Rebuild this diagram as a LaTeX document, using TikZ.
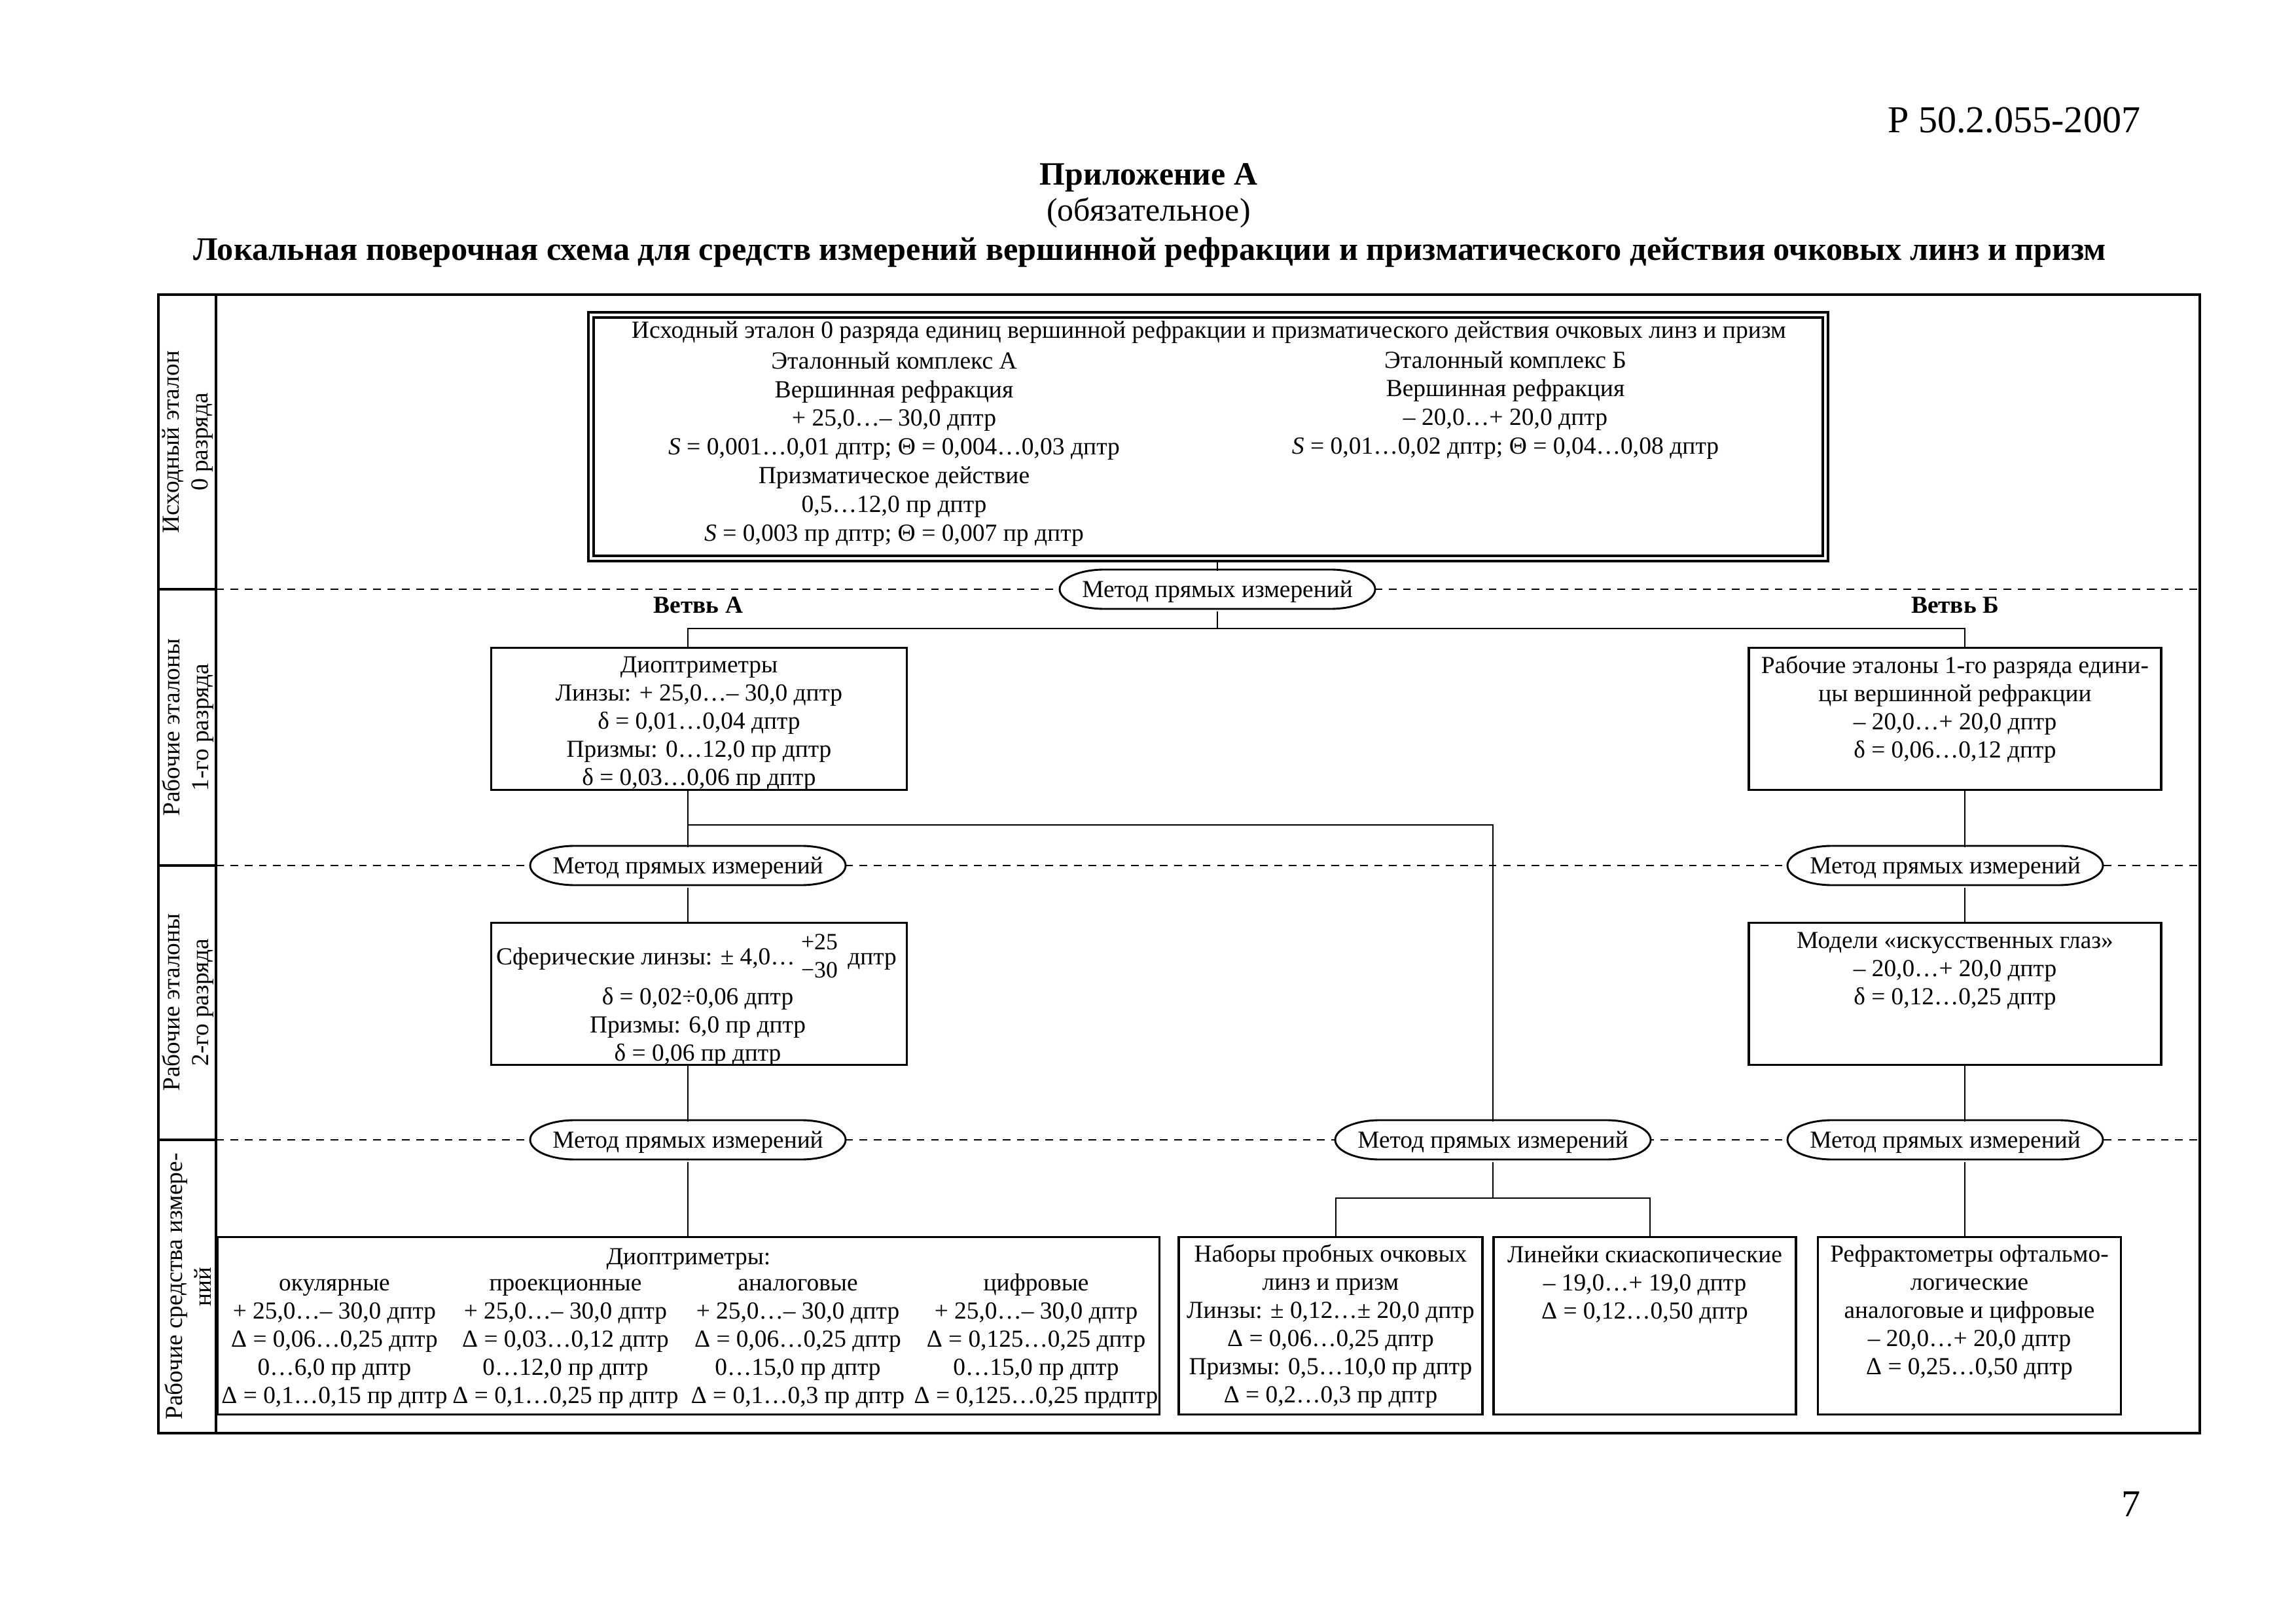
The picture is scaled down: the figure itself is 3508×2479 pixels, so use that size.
\documentclass[tikz,border=0pt]{standalone}
\usepackage{fontspec}
\setmainfont{Liberation Serif}
\newlength\pu
\setlength\pu{0.0846636mm}
\newcommand\myfs[2]{\fontsize{#1}{#2}\selectfont}
\newcommand\tst{\rule{0pt}{7pt}}
\newcommand\bst{\rule[-2.2pt]{0pt}{2.2pt}}
\tikzset{
  frm/.style={line width=0.9pt},
  box/.style={draw, line width=0.8pt, inner sep=0pt},
  conn/.style={line width=0.7pt},
  dsh/.style={line width=0.7pt, dash pattern=on 1mm off 0.85mm},
  txt/.style={align=center, inner sep=0pt, font=\myfs{9}{10.35}, yshift=-0.1pt},
  toptxt/.style={align=center, inner sep=0pt, font=\myfs{9.05}{10.55}, yshift=0.3pt},
  lbl/.style={align=center, inner sep=0pt, rotate=90, font=\myfs{9}{10.6}},
  brn/.style={inner sep=0pt, font=\myfs{9}{10.3}\bfseries},
  methnode/.style={inner sep=0pt, minimum width=482\pu, minimum height=60\pu, font=\myfs{9}{10.3}},
  methline/.style={line width=0.7pt, fill=white}
}
\newcommand\methbox[3]{%
  \draw[methline] (#2-173,#3-30) -- (#2+173,#3-30)
    arc[start angle=-90, end angle=90, x radius=68, y radius=30]
    -- (#2-173,#3+30)
    arc[start angle=90, end angle=270, x radius=68, y radius=30] -- cycle;
  \node[methnode] (#1) at (#2,#3+3) {\tst Метод прямых измерений\bst};}
\begin{document}
\begin{tikzpicture}[x=0.0846636mm, y=-0.0846636mm]
\useasboundingbox (0,0) rectangle (3508,2479);
% header
\node[font=\myfs{14}{16}, anchor=base east, inner sep=0pt] (hdr) at (3271,203) {Р 50.2.055-2007};
\node[font=\myfs{12}{14}\bfseries, anchor=base, inner sep=0pt] (app) at (1755,283) {Приложение А};
\node[font=\myfs{12}{14}, anchor=base, inner sep=0pt] (oblig) at (1755,338) {(обязательное)};
\node[font=\myfs{12.1}{14}\bfseries, anchor=base, inner sep=0pt] (ttl) at (1757,398) {Локальная поверочная схема для средств измерений вершинной рефракции и призматического действия очковых линз и призм};
\node[font=\myfs{14}{16}, anchor=base east, inner sep=0pt] (pg) at (3271,2316) {7};
% frame
\coordinate (FTL) at (242,450);
\coordinate (FBR) at (3361,2189);
\draw[frm] (FTL) rectangle (FBR);
\draw[frm] (330,450) -- (330,2189);
\foreach \yy in {900,1322,1741} {
  \draw[frm] (242,\yy) -- (330,\yy);
  \draw[dsh] (330,\yy) -- (3361,\yy);
}
% level labels
\node[lbl] (L0) at (287,675) {Исходный эталон\\0 разряда};
\node[lbl] (L1) at (287,1111) {Рабочие эталоны\\1-го разряда};
\node[lbl] (L2) at (287,1531) {Рабочие эталоны\\2-го разряда};
\node[lbl] (L3) at (287,1965) {Рабочие средства измере-\\ний};
% top box
\node[box, minimum width=1894\pu, minimum height=380\pu] (T) at (1846,667) {};
\node[box, minimum width=1878\pu, minimum height=364\pu] (Ti) at (1846,667) {};
\node[toptxt] (t0) at (1847,508) {\tst Исходный эталон 0 разряда единиц вершинной рефракции и призматического действия очковых линз и призм\bst};
\node[toptxt] (tA) at (1366,686) {\tst Эталонный комплекс А\\Вершинная рефракция\\+ 25,0…– 30,0 дптр\\\textit{S} = 0,001…0,01 дптр; Θ = 0,004…0,03 дптр\\Призматическое действие\\0,5…12,0 пр дптр\\\textit{S} = 0,003 пр дптр; Θ = 0,007 пр дптр\bst};
\node[toptxt] (tB) at (2300,619) {\tst Эталонный комплекс Б\\Вершинная рефракция\\– 20,0…+ 20,0 дптр\\\textit{S} = 0,01…0,02 дптр; Θ = 0,04…0,08 дптр\bst};
% method ellipses
\methbox{E0}{1860}{900}
\methbox{E1L}{1051}{1322}
\methbox{E1R}{2972}{1322}
\methbox{E2L}{1051}{1741}
\methbox{E2M}{2281}{1741}
\methbox{E2R}{2972}{1741}
% branch labels
\node[brn] (brA) at (1067,924) {Ветвь А};
\node[brn] (brB) at (2987,924) {Ветвь Б};
% level 1 boxes
\node[box, minimum width=635\pu, minimum height=217\pu] (B1L) at (1068,1098) {};
\node[txt] (b1lt) at (1068,1103) {\tst Диоптриметры\\Линзы: + 25,0…– 30,0 дптр\\δ = 0,01…0,04 дптр\\Призмы: 0…12,0 пр дптр\\δ = 0,03…0,06 пр дптр\bst};
\node[box, minimum width=630\pu, minimum height=217\pu] (B1R) at (2987,1098) {};
\node[txt] (b1rt) at (2987,1083) {\tst Рабочие эталоны 1-го разряда едини-\\цы вершинной рефракции\\– 20,0…+ 20,0 дптр\\δ = 0,06…0,12 дптр\bst};
% level 2 boxes
\node[box, minimum width=635\pu, minimum height=217\pu] (B2L) at (1068,1518) {};
\node[txt] (b2lt1) at (1064,1464) {Сферические линзы: ± 4,0… {\myfs{8.6}{9.5}\begin{tabular}{@{}c@{}}+25\\[0.8pt]−30\end{tabular}}\, дптр};
\node[txt] (b2lt2) at (1066,1567) {\tst δ = 0,02÷0,06 дптр\\Призмы: 6,0 пр дптр\\δ = 0,06 пр дптр\bst};
\node[box, minimum width=630\pu, minimum height=217\pu] (B2R) at (2987,1518) {};
\node[txt] (b2rt) at (2987,1481) {\tst Модели «искусственных глаз»\\– 20,0…+ 20,0 дптр\\δ = 0,12…0,25 дптр\bst};
% level 3 boxes
\node[box, minimum width=1439\pu, minimum height=271\pu] (B3L) at (1052,2025) {};
\node[txt] (d0) at (1052,1921) {\tst Диоптриметры:\bst};
\node[txt] (d1) at (511,2047) {\tst окулярные\\+ 25,0…– 30,0 дптр\\Δ = 0,06…0,25 дптр\\0…6,0 пр дптр\\Δ = 0,1…0,15 пр дптр\bst};
\node[txt] (d2) at (864,2047) {\tst проекционные\\+ 25,0…– 30,0 дптр\\Δ = 0,03…0,12 дптр\\0…12,0 пр дптр\\Δ = 0,1…0,25 пр дптр\bst};
\node[txt] (d3) at (1219,2047) {\tst аналоговые\\+ 25,0…– 30,0 дптр\\Δ = 0,06…0,25 дптр\\0…15,0 пр дптр\\Δ = 0,1…0,3 пр дптр\bst};
\node[txt] (d4) at (1583,2047) {\tst цифровые\\+ 25,0…– 30,0 дптр\\Δ = 0,125…0,25 дптр\\0…15,0 пр дптр\\Δ = 0,125…0,25 прдптр\bst};
\node[box, minimum width=464\pu, minimum height=271\pu] (B3a) at (2033,2025) {};
\node[txt] (b3at) at (2033,2025) {\tst Наборы пробных очковых\\линз и призм\\Линзы: ± 0,12…± 20,0 дптр\\Δ = 0,06…0,25 дптр\\Призмы: 0,5…10,0 пр дптр\\Δ = 0,2…0,3 пр дптр\bst};
\node[box, minimum width=462\pu, minimum height=271\pu] (B3b) at (2513,2025) {};
\node[txt] (b3bt) at (2513,1961) {\tst Линейки скиаскопические\\– 19,0…+ 19,0 дптр\\Δ = 0,12…0,50 дптр\bst};
\node[box, minimum width=463\pu, minimum height=271\pu] (B3R) at (3009,2025) {};
\node[txt] (b3rt) at (3009,2003) {\tst Рефрактометры офтальмо-\\логические\\аналоговые и цифровые\\– 20,0…+ 20,0 дптр\\Δ = 0,25…0,50 дптр\bst};
% connectors
\coordinate (J1) at (1860,960);
\coordinate (cR) at (3002,0);
\coordinate (J2) at (2281,1260);
\coordinate (J3) at (2281,1830);
\coordinate (J3a) at (2041,1830);
\coordinate (J3b) at (2521,1830);
\draw[conn] (E0.north |- T.south) -- (E0.north);
\draw[conn] (E0.south) -- (J1);
\draw[conn] (E1L.north |- B1L.north) -- (E1L.north |- J1) -- (cR |- J1) -- (cR |- B1R.north);
\draw[conn] (E1L.north |- B1L.south) -- (E1L.north);
\draw[conn] (E1L.north |- J2) -- (J2) -- (E2M.north);
\draw[conn] (E1L.south) -- (E1L.south |- B2L.north);
\draw[conn] (E2L.north |- B2L.south) -- (E2L.north);
\draw[conn] (E2L.south) -- (E2L.south |- B3L.north);
\draw[conn] (E2M.south) -- (J3);
\draw[conn] (J3a |- B3a.north) -- (J3a) -- (J3b) -- (J3b |- B3b.north);
\draw[conn] (cR |- B1R.south) -- (cR |- E1R.north);
\draw[conn] (cR |- E1R.south) -- (cR |- B2R.north);
\draw[conn] (cR |- B2R.south) -- (cR |- E2R.north);
\draw[conn] (cR |- E2R.south) -- (cR |- B3R.north);
\end{tikzpicture}
\end{document}
